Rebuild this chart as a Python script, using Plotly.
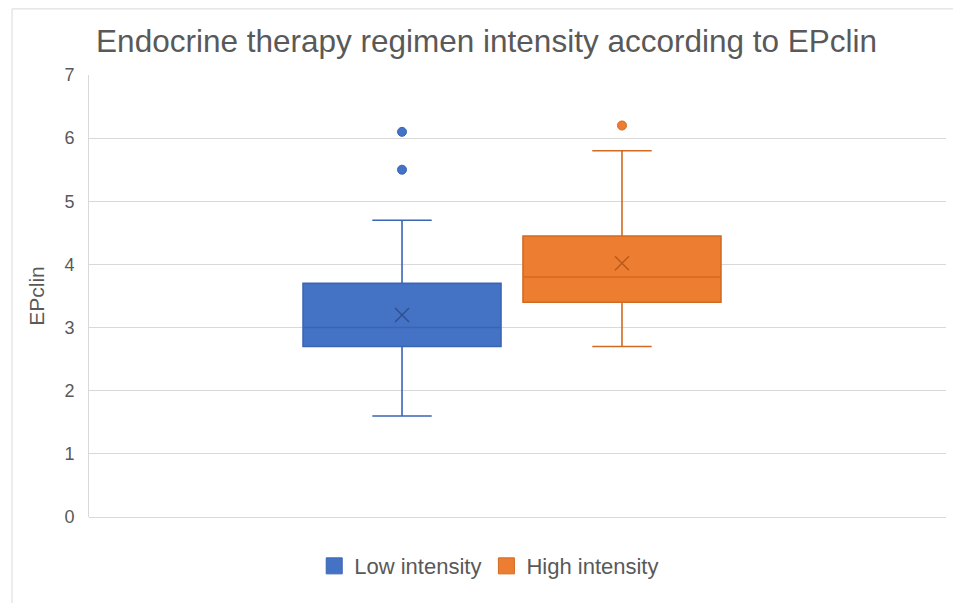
import plotly.graph_objects as go

# ---- data ----
groups = ["Low intensity", "High intensity"]
lower_whisker = [1.6, 2.7]
q1 = [2.7, 3.4]
median = [3.0, 3.8]
q3 = [3.7, 4.45]
upper_whisker = [4.7, 5.8]
means = [3.2, 4.02]
outliers = [[5.5, 6.1], [6.2]]

fill_colors = ["#4472C4", "#ED7D31"]
line_colors = ["#3A65B3", "#D26A22"]
mean_colors = ["#2E4E8C", "#B85A1A"]

FONT = "Liberation Sans, Arial, sans-serif"
GREY = "#595959"
GRID = "#D9D9D9"

fig = go.Figure()

for i, g in enumerate(groups):
    fig.add_trace(go.Box(
        x=[g],
        q1=[q1[i]], median=[median[i]], q3=[q3[i]],
        lowerfence=[lower_whisker[i]], upperfence=[upper_whisker[i]],
        name=g,
        fillcolor=fill_colors[i],
        line=dict(color=line_colors[i], width=1.6),
        whiskerwidth=0.3,
        width=0.9,
        boxpoints=False,
        showlegend=False,
        hoverinfo="y",
    ))
    # mean marker (X)
    fig.add_trace(go.Scatter(
        x=[g], y=[means[i]], mode="markers",
        marker=dict(symbol="x-thin", size=14,
                    line=dict(color=mean_colors[i], width=1.4)),
        showlegend=False, hoverinfo="y",
    ))
    # outliers
    fig.add_trace(go.Scatter(
        x=[g] * len(outliers[i]), y=outliers[i], mode="markers",
        marker=dict(symbol="circle", size=9, color=fill_colors[i],
                    line=dict(color=line_colors[i], width=1)),
        showlegend=False, hoverinfo="y",
    ))
    # legend entry
    fig.add_trace(go.Scatter(
        x=[None], y=[None], mode="markers", name=g,
        marker=dict(symbol="square", size=18, color=fill_colors[i],
                    line=dict(color=line_colors[i], width=1)),
        showlegend=True,
    ))

fig.update_layout(
    width=961, height=603,
    margin=dict(l=81, r=23, t=67, b=94),
    paper_bgcolor="white", plot_bgcolor="white",
    font=dict(family=FONT, color=GREY, size=18),
    title=dict(
        text="Endocrine therapy regimen intensity according to EPclin",
        font=dict(family=FONT, size=31.5, color=GREY),
        x=0.498, xanchor="center", y=0.945, yanchor="middle",
    ),
    legend=dict(
        orientation="h", x=0.467, xanchor="center",
        y=-0.111, yanchor="middle",
        font=dict(family=FONT, size=22, color=GREY),
        itemwidth=30, tracegroupgap=0,
    ),
    showlegend=True,
)

fig.update_xaxes(
    type="category", categoryorder="array", categoryarray=groups,
    range=[-1.423, 2.473], showticklabels=False, showgrid=False,
    zeroline=False, showline=False, ticks="",
)
fig.update_yaxes(
    range=[0, 7], dtick=1, tick0=0,
    showgrid=True, gridcolor=GRID, gridwidth=1,
    zeroline=True, zerolinecolor=GRID, zerolinewidth=1,
    showline=True, linecolor=GRID, linewidth=1,
    ticks="", ticklabelstandoff=10,
    tickfont=dict(family=FONT, size=18, color=GREY),
    title=dict(text="EPclin", font=dict(family=FONT, size=21, color=GREY),
               standoff=14),
)

# chart area border (Excel-style)
fig.add_shape(type="rect", xref="paper", yref="paper",
              x0=-0.0898, x1=1.0152, y0=-0.25, y1=1.1495,
              line=dict(color="#D9D9D9", width=1), fillcolor="rgba(0,0,0,0)",
              layer="below")

fig.write_html("out.html")
